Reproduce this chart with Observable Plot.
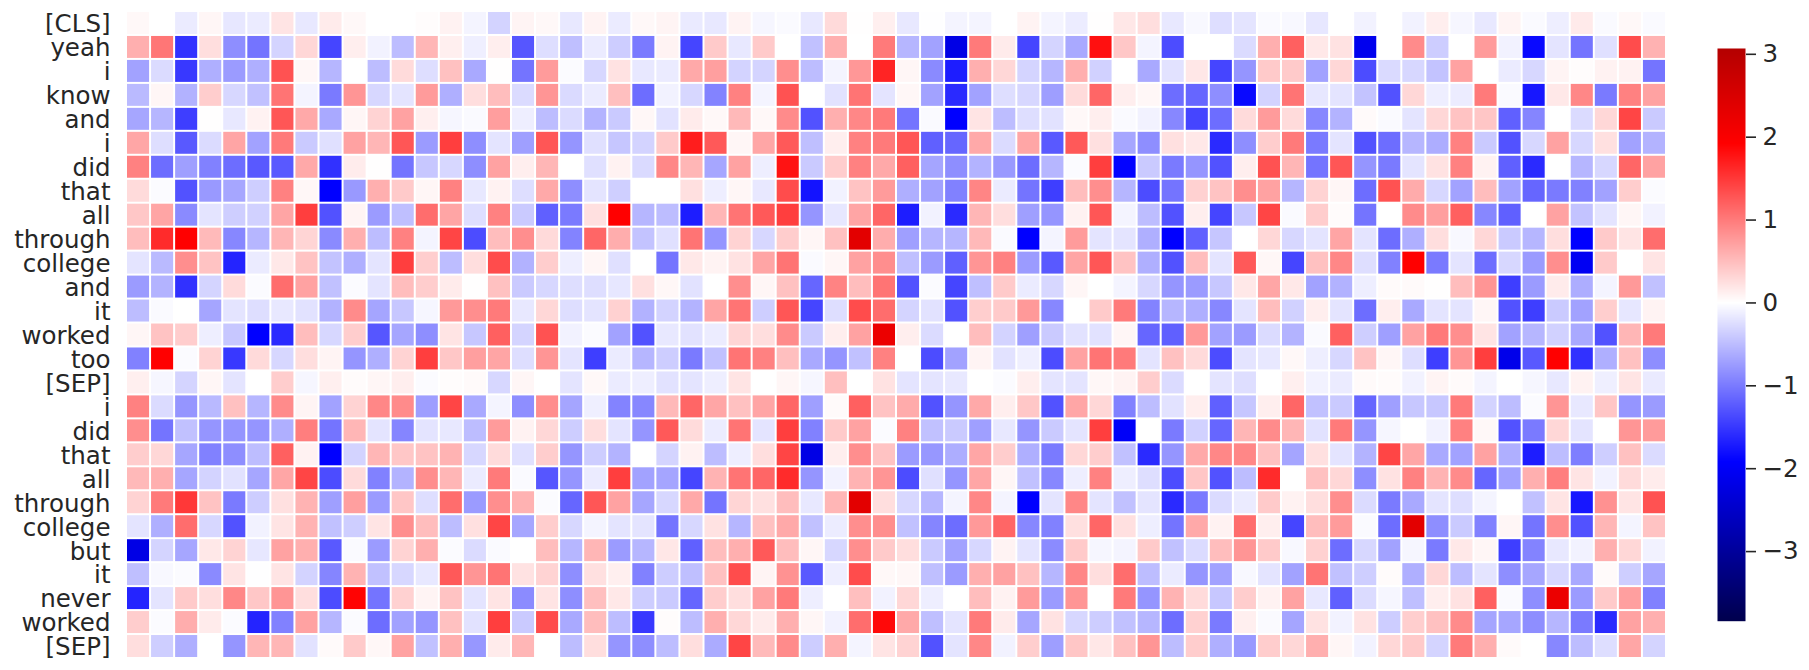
<!DOCTYPE html>
<html><head><meta charset="utf-8">
<script src="https://cdn.jsdelivr.net/npm/d3@7"></script>
<script src="https://cdn.jsdelivr.net/npm/@observablehq/plot@0.6"></script>
<style>
html,body{margin:0;padding:0;background:#fff}
#wrap{position:relative;width:1809px;height:670px;overflow:hidden}
#wrap svg{position:absolute;left:0;top:0;background:transparent;overflow:visible}
</style></head><body><div id="wrap"></div>
<script>
const tokens=["[CLS]","yeah","i","know","and","i","did","that","all","through","college","and","it","worked","too","[SEP]","i","did","that","all","through","college","but","it","never","worked","[SEP]"];
const r00=[.05,0,-.15,.07,-.18,-.15,.2,-.17,.15,.05,0,0,.02,.1,-.08,-.33,.08,.05,-.17,.09,-.15,.05,.08,-.16,-.17,.09,-.07,-.04,-.17,.28,.01,.12,-.17,-.01,-.08,-.08,0,.09,-.08,-.14,.01,.18,.25,-.17,-.05,-.25,-.2,-.04,-.05,-.18,0,-.1,0,-.1,.13,-.07,-.17,.08,-.04,-.13,.16,-.04,.05,-.04];
const r01=[.6,1.03,-1.54,.25,-.85,-1.05,-.32,.3,-1.4,.13,-.1,-.5,.55,.12,-.12,.13,-1.27,-.25,-.48,-.15,-.38,-1,.09,-1.4,.4,-.17,.4,0,-.47,.6,0,1,-.55,-.7,-2.2,1,.15,-1.4,-.32,-.65,1.8,.42,-.08,-1.35,0,0,-.27,.6,1.2,.17,.22,-2.1,0,.87,-.38,0,.75,-.1,-1.85,-.2,-1.05,-.23,1.35,.58];
const r02=[-.7,-.27,-1.5,-.6,-.75,-.6,1.3,.06,-.55,0,-.5,.27,-.25,.47,-.65,.01,-1.05,.75,-.03,-.3,.22,-.17,-.15,.65,.72,-.33,-.32,.85,-.5,-.08,.78,1.65,.07,-.88,-1.7,.6,.3,-.32,-.55,.6,-.35,0,-.65,-.22,.18,-1.4,-.8,.4,.4,-.7,.3,-1.35,-.28,-.3,-.45,.7,0,-.15,-.3,.08,.02,.1,.1,-1.05];
const r03=[-.52,.07,-.58,.38,-.3,-.47,1.05,-.08,-1,.8,-.3,-.2,.75,-.6,.25,.5,-.27,.8,-.28,-.15,.48,-1.1,-.1,-.3,-.93,.95,-.08,1.3,0,-.22,1.05,-.2,.06,-.7,-1.6,-.7,-.25,-.3,-.73,.27,1.15,.13,.06,-1.1,-1.15,-.85,-1.85,-.33,1.05,-.18,-.2,-.45,-1.3,.3,-.13,-.14,1,-.04,-1.75,.17,.9,-1,.95,.7];
const r04=[-.67,-.55,-1.45,.01,-.17,.1,1.27,.65,-.65,.07,.33,.7,.12,-.07,-.04,.73,-.13,-.5,-.27,-.57,-.4,.06,-.22,.15,.05,.53,.05,.87,-1.3,.6,.9,1,-1.05,-.04,-1.92,.2,-.5,-.25,-.22,.05,.13,-.04,-.1,-.9,-1.4,-1.1,.27,.75,.27,-.9,-.57,.04,-.04,-.2,.3,.45,.43,-1.2,-.92,0,-.27,.3,1.4,-.4];
const r05=[.67,-.25,-1.25,-.27,.68,-.7,1,-.4,-.23,.7,.55,1.27,-.75,1.45,-.85,-.2,-.72,1.27,-.8,-.23,-.43,-.33,.4,1.7,1.25,.07,.67,1.25,-.48,.13,.95,1,1.27,-1.2,-1.15,.65,-.27,.67,-1.25,1.25,.23,-.67,-.85,.23,.17,-1.6,-.85,.38,1,-1,-.2,-1.3,-1.1,-.55,-.62,.95,-.4,-1.3,-.3,.7,-.3,.23,-.7,-.57];
const r06=[.95,-1.1,-.72,-.95,-1.1,-1.25,-1.25,.65,-1.55,.14,.01,-1.05,-.42,-.3,-.85,.7,.13,.55,0,-.23,.1,-.28,.9,.55,-.67,.7,-.13,1.78,-.4,.38,.95,.65,1.2,-.68,-.85,-.57,-.77,-1.1,-.55,-.03,1.45,-1.9,-.4,-1,-.8,-1.3,.13,1.3,.55,-1.05,1.27,-.8,-1,-.2,.22,.95,.1,-1.2,-1.6,0,-.55,-.3,1.15,.7];
const r07=[.27,-.03,-1.3,-.77,-.67,-.37,.95,.06,-1.92,-.77,.6,.4,.07,.95,-.17,.1,-.25,.65,-.85,-.2,-.36,0,0,.23,-.13,.07,-.17,1.35,-1.78,-.1,.45,.75,-.6,-.7,-.95,.92,-.15,-1.05,-1.45,.5,.85,-.55,-1.35,-1.05,.35,.45,.85,.7,-.55,.33,.07,-1.1,1.3,.63,-.3,-.7,.5,-.7,-1.15,-1,-.95,-.7,.38,-.03];
const r08=[.42,.68,-.88,-.2,-.37,-.35,.68,1.45,-1.3,.08,-.75,-.48,1.1,.68,-.25,.95,-.4,-1.2,-1,.23,1.92,-.55,-.5,-1.7,.55,1.05,1.25,1.45,-.8,-.18,.68,1.15,-1.7,-.1,-1.6,.55,.25,-.72,-.8,.1,1.27,-.08,-.5,-1.3,.13,-1.4,-.42,1.4,-.04,.38,.03,-1.05,0,.87,.72,1.2,-.9,-1.2,0,.7,-.45,-.2,.07,-.1];
const r09=[.5,1.6,1.92,.52,-.9,-.55,.55,.32,-.88,.6,-.5,.95,-.08,1.4,-1.35,.5,.85,.28,-.93,1.15,.62,-.45,-.23,1.05,-.8,.33,-.3,.38,.07,.47,2.35,.62,-.72,-.55,-.55,.53,-.04,-1.92,-.08,.75,-.2,-.2,-.6,-1.92,-1.2,-.43,0,.3,-.3,-.2,.68,-.2,-1.1,-.6,.25,-.05,.3,-.4,-.55,.25,-1.92,.4,.2,1.1];
const r10=[-.2,-.52,.85,.45,-1.65,-.15,.17,.45,-.45,-.6,-.2,1.45,.37,-.5,.25,1.35,-.58,.38,-.13,.07,-.23,0,-1.05,.17,.09,.22,.68,1.05,-.04,.07,.7,.85,-.48,-.75,-1.2,.8,.95,-.75,-1.25,.68,1.27,.45,-.6,-1.3,.5,-.2,1.25,.06,-1.4,.47,.9,-.25,-.95,1.92,-1,-.2,-1.1,-.3,-.75,.85,-2.05,.4,0,.2];
const r11=[-.75,-.57,-1.55,-.32,.27,-.03,1.1,.7,-.47,-.03,-.2,.5,.38,.15,.01,.47,-.4,-.3,-.25,-.25,-.18,.23,.06,-.22,0,.85,.07,.47,-1.15,.93,.5,1.05,-1.3,-.03,-1.4,-.48,.4,-.15,-.3,.07,0,-.08,-.3,-.8,-.75,-.42,.17,.67,.17,-.7,-.58,-.13,.04,.04,.01,.5,.8,-1.45,-.75,.15,-.62,-.08,.77,-.47];
const r12=[-.5,-.04,0,-.68,-.2,-.25,-.17,-.22,-.58,.87,-.68,-.42,-.07,.77,.85,1,-.17,.3,-.25,-.2,.35,-.58,-.33,-.57,.68,1.05,-.37,1.27,-1.4,-.25,1.35,1.1,-.32,-.22,-1.3,.37,.4,.77,-.9,0,.4,1,-.93,-.55,-.6,-.9,-.2,.5,-.35,.13,-.2,-1.1,.13,-.65,-.2,-.2,.07,-1.3,-1.45,-.4,-.7,.37,-.18,.09];
const r13=[.07,.45,.38,-.13,-.42,-1.92,-1.6,.5,-.3,.38,-1.27,-.67,-.85,.2,-.42,1.2,-.32,1.3,-.1,-.03,-.7,-1.3,-.17,-.22,-.14,.32,.25,.87,-.4,.13,.7,2.2,.13,-.27,0,.5,-.33,-.72,-.4,-.22,-.22,.07,-1.15,-1.2,.77,-.7,-.75,-.27,-.57,-.04,1.2,-.37,-.72,.7,1,.85,.2,-.7,-.55,-.35,-.65,-1.3,.55,1];
const r14=[-.95,1.92,-.03,.33,-1.5,.28,-.3,.25,.08,-.8,-.6,.33,1.45,.42,.72,.68,-.25,.8,-.2,-1.45,-.15,-.55,-.38,-1,-.47,1.05,.95,.48,-.65,-.8,-.47,.95,0,-1.35,-.7,.08,-.22,-.12,-1.35,.7,1.05,1,-.2,.47,.28,-1.35,-.2,-.17,.05,-.13,-.3,.45,.07,-.25,-1.45,.8,1.45,-2.15,-1.25,1.92,-1.55,-.6,.47,-.85];
const r15=[.12,-.07,-.32,.07,-.2,0,.38,-.07,.12,.03,.07,.13,-.03,.02,.04,-.3,.07,0,-.2,.05,-.15,-.13,-.22,-.2,-.13,.2,0,.07,-.07,.48,0,.22,-.2,-.2,-.17,0,-.03,.13,-.2,-.2,.06,.09,.38,-.27,0,-.2,-.25,0,.12,-.1,-.15,.04,.03,-.1,.08,.04,-.08,0,-.07,-.17,.1,-.12,.2,-.16];
const r16=[.95,-.27,-.8,-.53,.47,-.55,.87,.08,-.7,.33,.9,.87,-.73,1.4,-.65,-.08,-.85,.85,-.68,-.12,-.93,-.9,.53,1.15,.67,.47,.68,1.15,-.72,.04,1.2,.45,.63,-1.3,-.8,.65,.13,.42,-1.3,.67,.3,-.95,-.5,-.22,.13,-1.2,-.43,.13,1.15,-.47,-.4,-1.15,-.72,-.42,-.42,1,-.33,-.5,-.03,.8,-.17,.43,-.8,-.75];
const r17=[.85,-1.05,-.47,-.8,-.8,-.8,-.6,.97,-1.05,.55,-.2,-.92,-.2,-.17,-.5,.75,.1,.3,-.38,.25,-.2,-.8,1.25,.27,-.14,1.05,-.2,1.45,-.95,.4,.7,-.03,.95,-.47,-.4,-.72,-.17,-.8,-.4,-.2,1.45,-2,0,-1,-.35,-1.15,.55,.87,.55,-.22,1,-.8,-.07,0,-.1,.95,.05,-1.3,-1,.3,-.2,0,.8,.75];
const r18=[.38,.3,-.67,-.95,-.85,-.5,1.2,.1,-1.92,-.33,.55,.42,.45,.57,-.3,.27,-.23,.38,-.8,-.38,-.57,0,-.32,.1,-.5,-.13,.25,1.4,-2.2,.13,.85,.45,-.75,-.78,-.62,.67,.38,-.6,-1,.3,.38,-.47,-1.6,-.8,.65,.9,.9,.47,-.68,.23,-.2,-.57,1.4,.67,-.65,-.7,.7,-.6,-1.7,-.5,-.97,-.37,.47,-.27];
const r19=[.53,.6,-.67,-.33,-.22,-.67,.67,1.4,-1.35,.27,-.95,-.57,.85,.55,-.15,1,-.04,-1.27,-.8,-.15,1.45,-.7,-.68,-1.4,.57,1.05,1.15,1.6,-.8,-.1,.57,.8,-1.35,-.23,-.8,.67,.07,-.47,-.9,-.13,.95,-.13,-.25,-1.35,.43,-1.3,-.5,1.6,0,.47,.3,-.85,.22,.95,.57,.87,-1.15,-.7,.6,.97,.2,-.1,.27,.14];
const r20=[.33,1,1.5,.45,-1,-.38,.23,.57,-.72,.72,-.75,.43,-.25,1.1,-.75,.85,.58,-.03,-1.15,1.27,.7,-.67,-.3,.65,-1.05,.32,.23,.5,-.17,.55,2.35,.25,-.3,-.55,-.08,.9,-.08,-1.92,-.2,.9,-.2,-.47,-.2,-1.6,-1,-.27,-.15,.4,.1,.25,.85,-.27,-1,-.65,-.2,-.25,-.08,0,-.47,.2,-1.75,.83,.2,1.3];
const r21=[-.2,-.6,1.1,-.3,-1.3,-.1,.2,.57,-.47,-.37,.2,.85,.5,-.5,.23,1.4,-.67,.38,-.3,-.08,-.2,-.2,-1.05,-.3,.22,-.55,.47,.65,-.47,-.14,.85,.85,-.47,-.92,-1.1,.77,1.15,-.9,-.95,.23,1.15,.23,-.13,-1.05,.65,.1,1.1,.13,-1.4,.5,.75,-.04,-1.1,2.35,-.85,-.4,-.95,.07,-1.05,.85,-1.3,.55,-.08,.45];
const r22=[-2.2,-.32,-.67,.17,.33,-.18,.7,.6,-1.25,-.04,-.75,.33,.6,-.03,-.27,-.04,0,.5,-.55,.55,-.75,-.55,.18,-1.2,.5,.6,1.25,.5,.07,-.3,.85,.4,.25,-.4,-.7,-.3,.09,-.2,-.87,.4,-.07,-.08,.4,-.47,-.27,.5,.8,.4,-.05,.35,-1.1,-.3,-.7,-.07,-1,.17,.07,-1.45,-.93,-.17,-.1,.6,.3,-.1];
const r23=[-.48,-.05,-.03,-.88,.2,-.01,.2,-.33,-.92,.57,-.47,-.3,-.17,1.25,.8,1.05,.22,.33,-.85,.23,.12,-.95,-.38,-.48,.47,1.35,.08,.82,-1.25,-.13,1.35,.05,.06,-.48,-.75,.6,.7,.47,-.55,.9,.25,1.1,-.5,-.15,-.8,-.7,-.05,-.2,-.7,1.05,-.47,-.37,.03,-.6,.3,-.5,-.2,-.85,-.67,-.3,-.65,.04,-.37,-.67];
const r24=[-1.65,-.2,.4,.25,.9,.42,.8,.25,-1.35,1.9,-1.05,.35,.08,.45,-.2,.2,-.87,.2,-.85,.48,.17,-.38,-.4,-1.15,.38,.25,.7,1,-.13,0,.48,-.1,.3,-.13,0,.5,.1,.75,-.75,.8,0,1,-.8,.57,.27,-.42,.38,.1,.7,-.17,-1.2,-.27,-.07,-.48,.13,.22,1.2,-.04,-.85,2.2,-.75,.4,.72,-.95];
const r25=[.38,-.03,.62,.15,-.03,-1.65,-.95,.7,-.55,-.03,-1.1,-.7,-.8,.47,-.22,1.45,-.4,1.35,-.65,.5,-.5,-1.5,.02,-.5,.6,.3,.15,.6,.07,-.1,1.1,1.85,.65,-.48,-.2,1,.15,-.67,.22,-.3,-.38,-.47,-.55,-1.1,.35,-1,.12,-.04,-.68,.22,-.1,.22,-.38,.37,.47,.87,-.68,-.67,-.85,-.55,-1,-1.6,.7,.6];
const r26=[.25,-.37,-.6,0,-.8,.55,.55,-.22,.04,.4,.06,.7,-.47,.6,-.78,.15,.55,0,-.5,.25,-.8,-.85,-.5,.25,-.63,1.4,.52,.87,-.38,.6,-.08,.2,.33,-1.3,-.2,.9,-.1,.37,-.73,.43,.18,.47,.8,-.5,.38,-.6,-.77,.38,.3,.6,.07,-.1,.3,.4,-.32,1,.6,.04,0,-.9,-.5,-.25,.67,-.32];
const rows=[r00,r01,r02,r03,r04,r05,r06,r07,r08,r09,r10,r11,r12,r13,r14,r15,r16,r17,r18,r19,r20,r21,r22,r23,r24,r25,r26];
const barTicks=[-3,-2,-1,0,1,2,3];
const vMin=-3.84, vMax=3.07;
const seismicStops=[-3.84,-1.92,0,1.92,3.84];
const seismicColors=["#00004d","#0000ff","#ffffff","#ff0000","#800000"];
const cells=rows.flatMap((r,i)=>r.map((v,j)=>({i,j,v})));
const color={type:"linear",domain:seismicStops,range:seismicColors,clamp:true,interpolate:"rgb"};
const font={fontFamily:"'DejaVu Sans',sans-serif",fontSize:"24.5px",color:"#262626",background:"transparent"};
const wrap=document.getElementById("wrap");
wrap.append(Plot.plot({
  width:1809,height:670,marginLeft:126,marginRight:143,marginTop:11,marginBottom:12,
  style:font,color,
  x:{type:"band",domain:d3.range(64),padding:0,round:false,axis:null},
  y:{type:"band",domain:d3.range(27),padding:0,round:false},
  marks:[
    Plot.cell(cells,{x:"j",y:"i",fill:"v",inset:1}),
    Plot.axisY({tickSize:0,tickPadding:16,dy:1,tickFormat:i=>tokens[i],label:null,fill:"#262626",fontSize:24.5})
  ]
}));
wrap.append(Plot.plot({
  width:1809,height:670,marginLeft:1717,marginRight:64,marginTop:48,marginBottom:49.3,
  style:font,color,
  x:{domain:[0,1],axis:null},
  y:{domain:[vMin,vMax]},
  marks:[
    Plot.raster({x1:0,x2:1,y1:vMin,y2:vMax,fill:(x,y)=>y,imageRendering:"pixelated"}),
    Plot.axisY({anchor:"right",ticks:barTicks,tickSize:10,tickPadding:7,tickFormat:d3.format("d"),label:null,stroke:"#262626",strokeWidth:1.6,fill:"#262626",fontSize:24.5})
  ]
}));
</script></body></html>
